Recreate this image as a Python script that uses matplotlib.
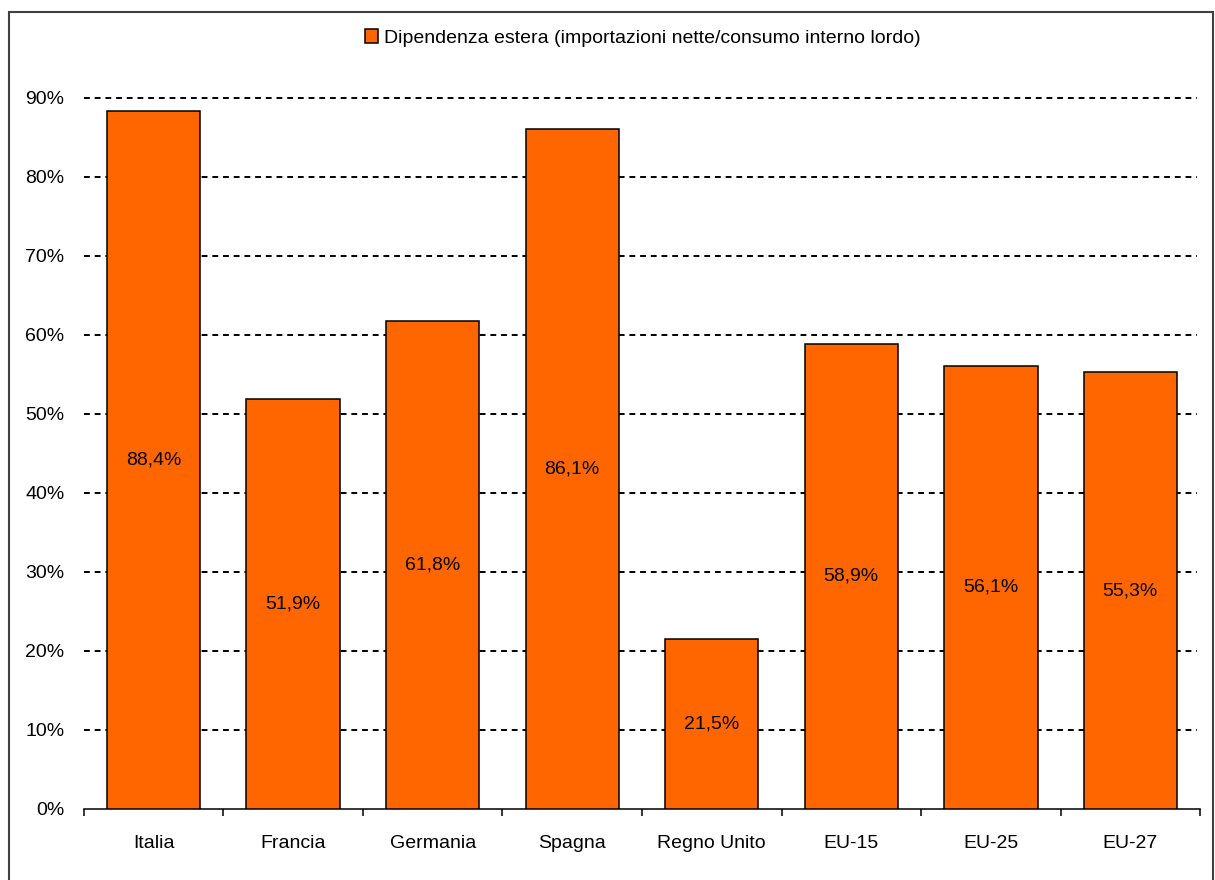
import numpy as np
import matplotlib
matplotlib.use('Agg')
import matplotlib.pyplot as plt
from matplotlib.patches import Rectangle

plt.rcParams['font.family'] = ['Liberation Sans', 'DejaVu Sans']

# Data
paesi = ['Italia', 'Francia', 'Germania', 'Spagna', 'Regno Unito', 'EU-15', 'EU-25', 'EU-27']
dipendenza = [88.4, 51.9, 61.8, 86.1, 21.5, 58.9, 56.1, 55.3]
etichette = ['88,4%', '51,9%', '61,8%', '86,1%', '21,5%', '58,9%', '56,1%', '55,3%']
y_ticks = [0, 10, 20, 30, 40, 50, 60, 70, 80, 90]
legenda = 'Dipendenza estera (importazioni nette/consumo interno lordo)'

arancio = '#FF6600'
fs = 14

fig = plt.figure(figsize=(12.15, 8.8), dpi=100)
ax = fig.add_axes([0.0691, 0.0807, 0.9186, 0.808])

x = np.arange(len(paesi))
bars = ax.bar(x, dipendenza, width=0.67, color=arancio, edgecolor='black',
              linewidth=1.1, zorder=3, label=legenda)

# value labels in the middle of the bars
for xi, v, lab in zip(x, dipendenza, etichette):
    ax.text(xi, v / 2, lab, ha='center', va='center', fontsize=fs, zorder=4)

ax.set_xlim(-0.5, len(paesi) - 0.5)
ax.set_ylim(0, 90)

# dashed gridlines
for yv in y_ticks[1:]:
    ax.axhline(yv, color='black', linestyle=(0, (3, 2.5)), linewidth=1.4,
               zorder=1, clip_on=False, xmax=0.9975)

ax.set_yticks(y_ticks)
ax.set_yticklabels([f'{v}%' for v in y_ticks], fontsize=fs)
ax.tick_params(axis='y', length=0, pad=14)

ax.set_xticks(x)
ax.set_xticklabels(paesi, fontsize=fs)
ax.tick_params(axis='x', which='major', length=0, pad=19)
ax.set_xticks(np.arange(-0.5, len(paesi)), minor=True)
ax.tick_params(axis='x', which='minor', length=5, width=1.1, direction='out')

for s in ['top', 'right', 'left']:
    ax.spines[s].set_visible(False)
ax.spines['bottom'].set_linewidth(1.1)

fig.legend(handles=[bars], labels=[legenda], loc='center',
           bbox_to_anchor=(0.529, 0.957), frameon=False, fontsize=fs,
           handlelength=0.7, handleheight=0.7, handletextpad=0.3)

# frame around the figure
top = 1 - 12 / 880
fig.patches.append(Rectangle((9 / 1215, -0.01), 1204 / 1215, top + 0.01,
                             transform=fig.transFigure, fill=False,
                             edgecolor='#404040', linewidth=1.5))

fig.savefig('out.png', dpi=100)
